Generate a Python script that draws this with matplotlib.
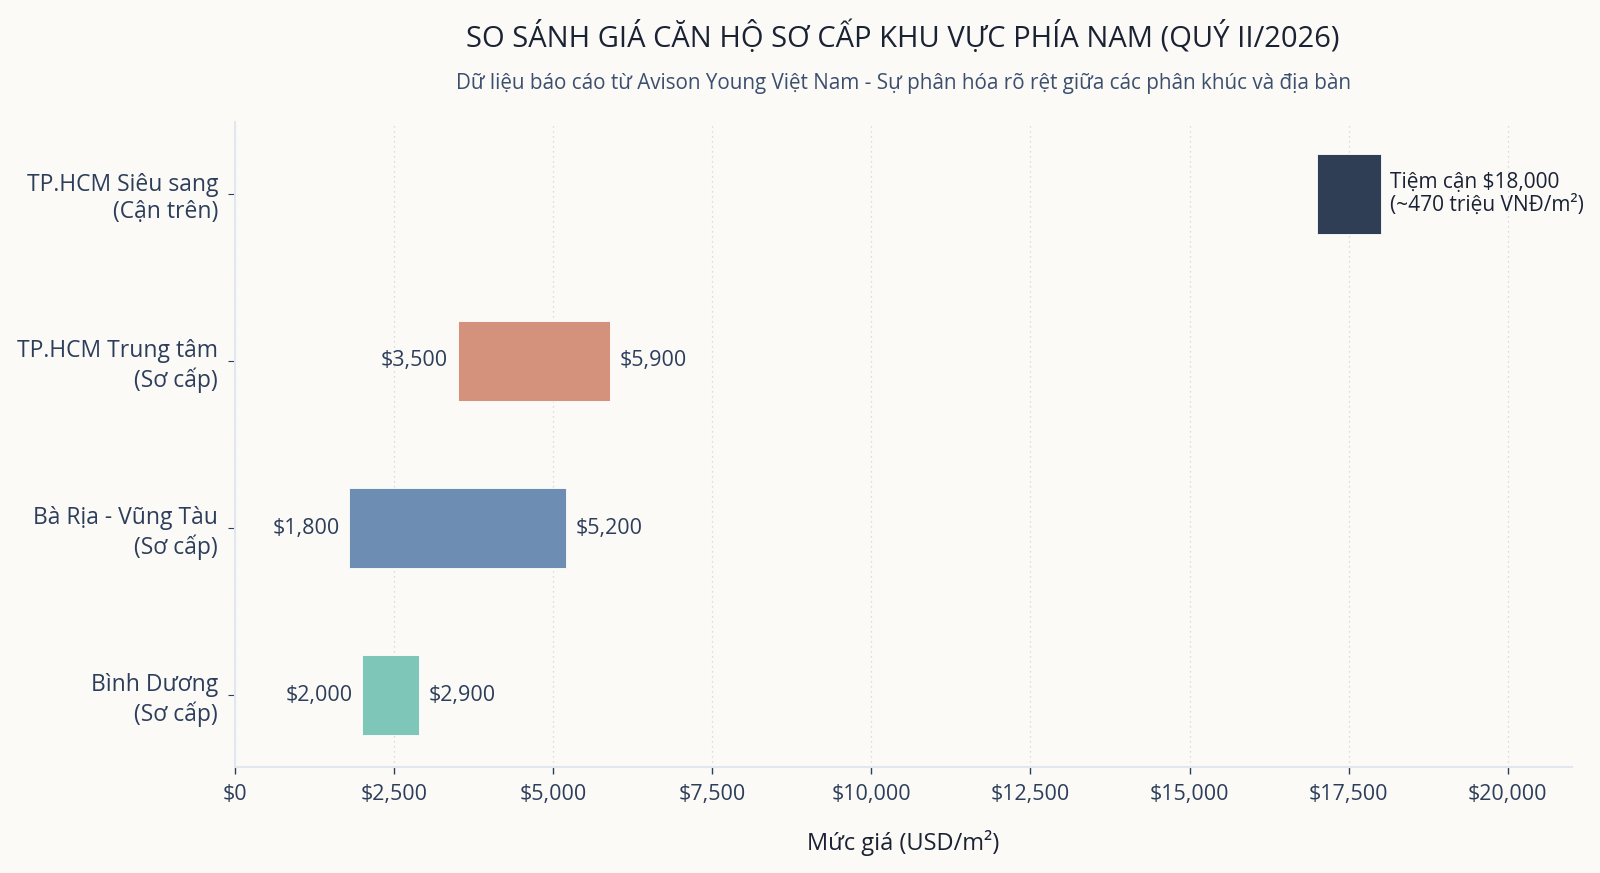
import matplotlib
matplotlib.use("Agg")
import matplotlib.pyplot as plt
from matplotlib.ticker import FuncFormatter, MultipleLocator

plt.rcParams['font.family'] = ['Open Sans', 'DejaVu Sans']

categories = ["Bình Dương\n(Sơ cấp)", "Bà Rịa - Vũng Tàu\n(Sơ cấp)",
              "TP.HCM Trung tâm\n(Sơ cấp)", "TP.HCM Siêu sang\n(Cận trên)"]
low_values = [2000, 1800, 3500, 17000]
high_values = [2900, 5200, 5900, 18000]
bar_colors = ["#7ec6b8", "#6d8db3", "#d4917c", "#2f3e55"]
top_note = "Tiệm cận $18,000\n(~470 triệu VNĐ/m²)"

W, H, DPI = 1600, 873, 100
bg = "#fbfaf7"
fig = plt.figure(figsize=(W / DPI, H / DPI), dpi=DPI, facecolor=bg)
ax = fig.add_axes([234.7 / W, 1 - 767 / H, (1571.5 - 234.7) / W, (767 - 122) / H])
ax.set_facecolor(bg)

ypos = list(range(len(categories)))
widths = [h - l for l, h in zip(low_values, high_values)]
ax.barh(ypos, widths, left=low_values, height=0.48, color=bar_colors,
        edgecolor="white", linewidth=0.6, zorder=3)

text_col = "#2d3e5a"
for i, (l, h) in enumerate(zip(low_values, high_values)):
    if i == len(categories) - 1:
        ax.annotate(top_note, xy=(h, i), xytext=(7, 0), textcoords="offset points",
                    ha="left", va="center", fontsize=15, color="#1a2233",
                    linespacing=1.15)
    else:
        ax.annotate(f"${l:,.0f}", xy=(l, i), xytext=(-7, 0), textcoords="offset points",
                    ha="right", va="center", fontsize=15.5, color=text_col)
        ax.annotate(f"${h:,.0f}", xy=(h, i), xytext=(7, 0), textcoords="offset points",
                    ha="left", va="center", fontsize=15.5, color=text_col)

ax.set_xlim(0, 21000)
ax.set_ylim(-0.43, 3.43)
ax.xaxis.set_major_locator(MultipleLocator(2500))
ax.xaxis.set_major_formatter(FuncFormatter(lambda v, p: f"${v:,.0f}"))
ax.set_yticks(ypos)
ax.set_yticklabels(categories, fontsize=16.5, color=text_col, linespacing=1.2)
ax.tick_params(axis="x", labelsize=15.5, labelcolor=text_col, color="#2d3e5a",
               length=5, width=1, pad=7)
ax.tick_params(axis="y", color="#2d3e5a", length=5, width=0.8, pad=7)
ax.grid(axis="x", linestyle=(0, (1, 3)), color="#cfd2d8", linewidth=0.9, zorder=0)
ax.grid(axis="y", visible=False)
for s in ["top", "right"]:
    ax.spines[s].set_visible(False)
for s in ["left", "bottom"]:
    ax.spines[s].set_color("#e2e7ef")
    ax.spines[s].set_linewidth(1.5)

ax.set_xlabel("Mức giá (USD/m²)", fontsize=17, color="#1a2233", labelpad=18)

cx = (234.7 + 1571.5) / 2 / W
fig.text(cx, 1 - 37 / H, "SO SÁNH GIÁ CĂN HỘ SƠ CẤP KHU VỰC PHÍA NAM (QUÝ II/2026)",
         ha="center", va="center", fontsize=21, color="#1a2233")
fig.text(cx, 1 - 84 / H,
         "Dữ liệu báo cáo từ Avison Young Việt Nam - Sự phân hóa rõ rệt giữa các phân khúc và địa bàn",
         ha="center", va="center", fontsize=14.9, color="#3d4f6e")

fig.savefig("out.png", dpi=DPI, facecolor=bg)
